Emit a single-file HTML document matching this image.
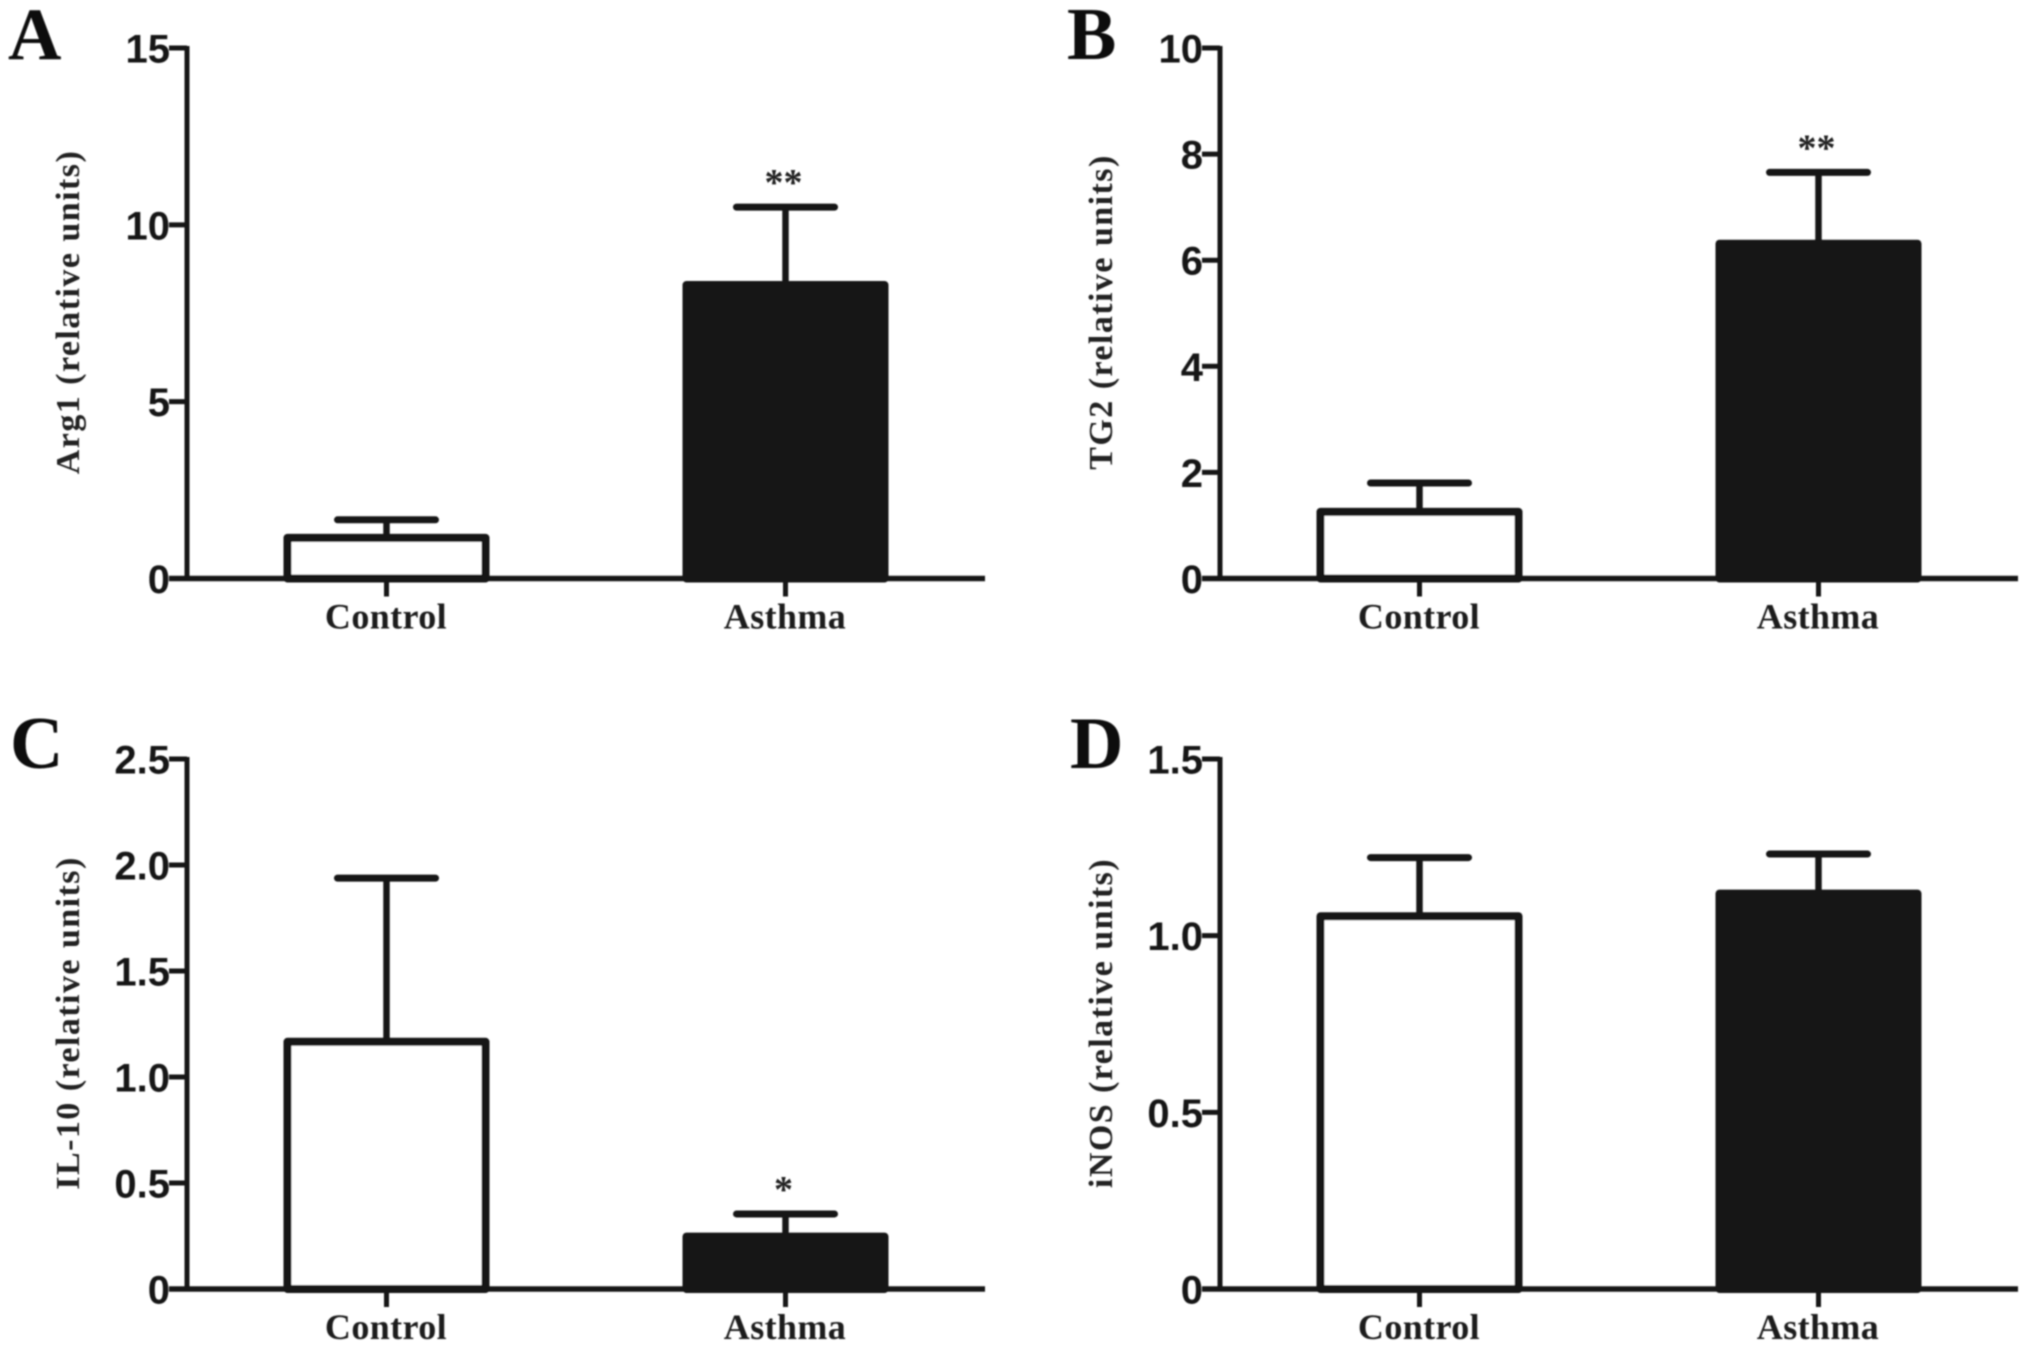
<!DOCTYPE html>
<html lang="en">
<head>
<meta charset="utf-8">
<title>Relative expression bar charts</title>
<style>
html,body{margin:0;padding:0;background:#fff;}
svg{display:block;}
.tick{font-family:"Liberation Sans",Arial,sans-serif;font-weight:700;font-size:40px;fill:#161616;}
.cat{font-family:"Liberation Serif",serif;font-weight:700;font-size:36px;fill:#1c1c1c;letter-spacing:.4px;}
.ytitle{font-family:"Liberation Serif",serif;font-weight:700;font-size:34px;fill:#222;letter-spacing:1.45px;}
.letter{font-family:"Liberation Serif",serif;font-weight:700;font-size:74px;fill:#0c0c0c;}
.star{font-family:"Liberation Serif",serif;font-weight:700;font-size:38px;fill:#222;}
</style>
</head>
<body>
<svg id="fig" xmlns="http://www.w3.org/2000/svg" width="2031" height="1351" viewBox="0 0 2031 1351">
<defs><filter id="soft" x="-2%" y="-2%" width="104%" height="104%"><feGaussianBlur stdDeviation="0.7"/></filter></defs>
<rect width="2031" height="1351" fill="#fff"/>
<g id="root" filter="url(#soft)"></g>
</svg>
<script>
const categories = ['Control', 'Asthma'];

const arg1Means = [1.15, 8.3];
const arg1Upper = [1.66, 10.5];
const arg1Ticks = [0, 5, 10, 15];
const arg1TickLabels = ['0', '5', '10', '15'];
const arg1Stars = ['', '**'];

const tg2Means = [1.257, 6.31];
const tg2Upper = [1.8, 7.655];
const tg2Ticks = [0, 2, 4, 6, 8, 10];
const tg2TickLabels = ['0', '2', '4', '6', '8', '10'];
const tg2Stars = ['', '**'];

const il10Means = [1.166, 0.247];
const il10Upper = [1.938, 0.354];
const il10Ticks = [0, 0.5, 1, 1.5, 2, 2.5];
const il10TickLabels = ['0', '0.5', '1.0', '1.5', '2.0', '2.5'];
const il10Stars = ['', '*'];

const inosMeans = [1.055, 1.119];
const inosUpper = [1.221, 1.231];
const inosTicks = [0, 0.5, 1, 1.5];
const inosTickLabels = ['0', '0.5', '1.0', '1.5'];
const inosStars = ['', ''];

const NS = 'http://www.w3.org/2000/svg';
const root = document.getElementById('root');
const INK = '#171717';

function make(parent, tag, attrs, text) {
  const el = document.createElementNS(NS, tag);
  for (const k in attrs) el.setAttribute(k, attrs[k]);
  if (text !== undefined) el.textContent = text;
  parent.appendChild(el);
  return el;
}

function drawPanel(cfg) {
  const g = make(root, 'g', {});
  
  

  const yMax = cfg.ticks[cfg.ticks.length - 1];
  const yScale = v => cfg.y0 - (v / yMax) * (cfg.y0 - cfg.yTop);
  const xScale = i => cfg.x0 + 199.5 + i * 399;
  const barHalf = 99;
  const capHalf = 49;

  const letter = make(g, 'text', {x: cfg.letterX, y: cfg.letterY, class: 'letter'}, cfg.letter);
  
  

  const title = make(g, 'text', {
    class: 'ytitle', 'text-anchor': 'middle',
    transform: 'translate(' + (cfg.x0 - 108) + ' ' + cfg.titleY + ') rotate(-90)'
  }, cfg.title);
  
  

  categories.forEach((cat, i) => {
    const cx = xScale(i);
    const top = yScale(cfg.means[i]);
    const upper = yScale(cfg.upper[i]);

    const stem = make(g, 'line', {x1: cx, x2: cx, y1: top, y2: upper, stroke: INK, 'stroke-width': 6.5});
    
    

    const cap = make(g, 'line', {x1: cx - capHalf, x2: cx + capHalf, y1: upper, y2: upper, stroke: INK, 'stroke-width': 7, 'stroke-linecap': 'round'});
    
    

    const bar = make(g, 'rect', {
      x: cx - barHalf, y: top, width: barHalf * 2, height: cfg.y0 - top,
      fill: i === 0 ? '#fff' : '#151515', stroke: INK, 'stroke-width': 8, 'stroke-linejoin': 'round'
    });
    
    

    const xTick = make(g, 'line', {x1: cx, x2: cx, y1: cfg.y0, y2: cfg.y0 + 18, stroke: INK, 'stroke-width': 5});
    
    

    const label = make(g, 'text', {x: cx - 0.5, y: cfg.y0 + 50, class: 'cat', 'text-anchor': 'middle'}, cat);
    
    

    if (cfg.stars[i]) {
      const star = make(g, 'text', {x: cx - 2, y: upper - 12, class: 'star', 'text-anchor': 'middle'}, cfg.stars[i]);
      
      
    }
  });

  const yAxis = make(g, 'line', {x1: cfg.x0, x2: cfg.x0, y1: cfg.yTop - 2, y2: cfg.y0 + 2, stroke: INK, 'stroke-width': 5});
  
  

  const xAxis = make(g, 'line', {x1: cfg.x0 - 18, x2: cfg.x0 + 798, y1: cfg.y0, y2: cfg.y0, stroke: INK, 'stroke-width': 5.5});
  
  

  cfg.ticks.forEach((t, i) => {
    const y = yScale(t);
    const tick = make(g, 'line', {x1: cfg.x0 - 18, x2: cfg.x0, y1: y, y2: y, stroke: INK, 'stroke-width': 5});
    
    
    const lab = make(g, 'text', {x: cfg.x0 - 17, y: y + 14.5, class: 'tick', 'text-anchor': 'end'}, cfg.tickLabels[i]);
    
    
  });
}

drawPanel({key: 'arg1', letter: 'A', letterX: 8, letterY: 59, x0: 187, y0: 578.5, yTop: 48, titleY: 312, title: 'Arg1 (relative units)', means: arg1Means, upper: arg1Upper, ticks: arg1Ticks, tickLabels: arg1TickLabels, stars: arg1Stars});
drawPanel({key: 'tg2', letter: 'B', letterX: 1067, letterY: 59, x0: 1220, y0: 578.5, yTop: 48, titleY: 312, title: 'TG2 (relative units)', means: tg2Means, upper: tg2Upper, ticks: tg2Ticks, tickLabels: tg2TickLabels, stars: tg2Stars});
drawPanel({key: 'il10', letter: 'C', letterX: 10, letterY: 768, x0: 187, y0: 1289, yTop: 759, titleY: 1023, title: 'IL-10 (relative units)', means: il10Means, upper: il10Upper, ticks: il10Ticks, tickLabels: il10TickLabels, stars: il10Stars});
drawPanel({key: 'inos', letter: 'D', letterX: 1070, letterY: 768, x0: 1220, y0: 1289, yTop: 759, titleY: 1023, title: 'iNOS (relative units)', means: inosMeans, upper: inosUpper, ticks: inosTicks, tickLabels: inosTickLabels, stars: inosStars});
</script>
</body>
</html>
